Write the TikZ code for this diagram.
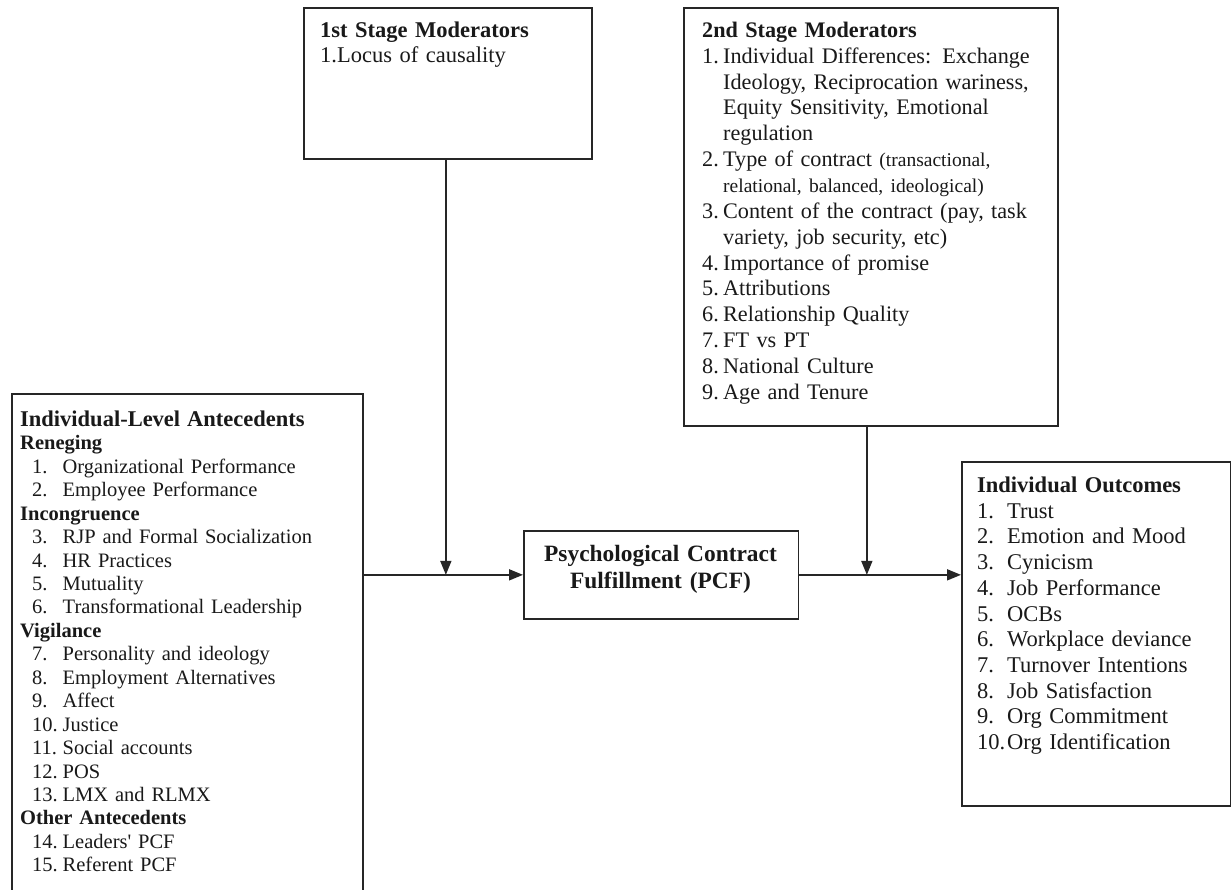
\documentclass[tikz,border=0pt]{standalone}
\usepackage{fontspec}
\setmainfont{Liberation Serif}
\usetikzlibrary{arrows.meta,calc}
\newcommand{\aitem}[2]{\hspace*{12pt}\makebox[30.5pt][l]{#1}#2}
\newcommand{\mitem}[2]{\makebox[21pt][l]{#1}#2}
\newcommand{\oitem}[2]{\makebox[30pt][l]{#1}#2}
\tikzset{
  box/.style={draw=black!85, line width=1.7pt, inner sep=0pt, anchor=north west},
  txt/.style={inner sep=0pt, align=left, text=black!90, anchor=base west},
  arr/.style={draw=black!85, line width=1.7pt, -{Triangle[length=14pt,width=11pt]}},
}
\begin{document}
\begin{tikzpicture}[x=1pt,y=-1pt]
\useasboundingbox (0,0) rectangle (1231,890);
\clip (0,0) rectangle (1231,890);
\fill[white] (0,0) rectangle (1231,890);

% boxes
\node[box, minimum width=288pt, minimum height=151pt] (mod1) at (303,7) {};
\node[box, minimum width=374pt, minimum height=418pt] (mod2) at (683,7) {};
\node[box, minimum width=351pt, minimum height=557pt] (ante) at (11,393) {};
\node[box, minimum width=274.5pt, minimum height=88pt] (pcf) at (523,530) {};
\node[box, minimum width=269pt, minimum height=344pt] (out) at (961,461) {};

% texts
\node[txt, text width=270pt, font=\fontsize{22.5}{25}\selectfont] (mod1t) at (320,37.5) {%
{\bfseries 1st Stage Moderators}\\
1.Locus of causality};

\node[txt, text width=360pt, font=\fontsize{22.2}{25.86}\selectfont] (mod2t) at (702,37.4) {%
{\bfseries 2nd Stage Moderators}\\
\mitem{1.}{Individual Differences: Exchange}\\
\mitem{}{Ideology, Reciprocation wariness,}\\
\mitem{}{Equity Sensitivity, Emotional}\\
\mitem{}{regulation}\\
\mitem{2.}{Type of contract {\fontsize{19.5}{25.86}\selectfont(transactional,}}\\
\mitem{}{{\fontsize{19.5}{25.86}\selectfont relational, balanced, ideological)}}\\
\mitem{3.}{Content of the contract (pay, task}\\
\mitem{}{variety, job security, etc)}\\
\mitem{4.}{Importance of promise}\\
\mitem{5.}{Attributions}\\
\mitem{6.}{Relationship Quality}\\
\mitem{7.}{FT vs PT}\\
\mitem{8.}{National Culture}\\
\mitem{9.}{Age and Tenure}};

\node[txt, text width=340pt, font=\fontsize{20.5}{23.45}\selectfont] (antet) at (20,426.3) {%
{\bfseries\fontsize{22.5}{23.45}\selectfont Individual-Level Antecedents}\\
\textbf{Reneging}\\
\aitem{1.}{Organizational Performance}\\
\aitem{2.}{Employee Performance}\\
\textbf{Incongruence}\\
\aitem{3.}{RJP and Formal Socialization}\\
\aitem{4.}{HR Practices}\\
\aitem{5.}{Mutuality}\\
\aitem{6.}{Transformational Leadership}\\
\textbf{Vigilance}\\
\aitem{7.}{Personality and ideology}\\
\aitem{8.}{Employment Alternatives}\\
\aitem{9.}{Affect}\\
\aitem{10.}{Justice}\\
\aitem{11.}{Social accounts}\\
\aitem{12.}{POS}\\
\aitem{13.}{LMX and RLMX}\\
\textbf{Other Antecedents}\\
\aitem{14.}{Leaders\textquotesingle\ PCF}\\
\aitem{15.}{Referent PCF}};

\node[txt, anchor=base, align=center, text width=270pt, font=\bfseries\fontsize{23.4}{27}\selectfont] (pcft) at (660.5,561) {%
Psychological Contract\\
Fulfillment (PCF)};

\node[txt, text width=260pt, font=\fontsize{22.5}{25.7}\selectfont] (outt) at (977,492.5) {%
{\bfseries Individual Outcomes}\\
\oitem{1.}{Trust}\\
\oitem{2.}{Emotion and Mood}\\
\oitem{3.}{Cynicism}\\
\oitem{4.}{Job Performance}\\
\oitem{5.}{OCBs}\\
\oitem{6.}{Workplace deviance}\\
\oitem{7.}{Turnover Intentions}\\
\oitem{8.}{Job Satisfaction}\\
\oitem{9.}{Org Commitment}\\
\oitem{10.}{Org Identification}};

% connectors
\coordinate (j1) at ([xshift=-2pt]mod1.south |- pcf.west);
\coordinate (j2) at ([xshift=-4pt]mod2.south |- pcf.east);
\draw[arr] (ante.east |- pcf.west) -- (pcf.west);
\draw[arr] (pcf.east) -- (out.west |- pcf.east);
\draw[arr] ([xshift=-2pt]mod1.south) -- (j1);
\draw[arr] ([xshift=-4pt]mod2.south) -- (j2);
\end{tikzpicture}
\end{document}
